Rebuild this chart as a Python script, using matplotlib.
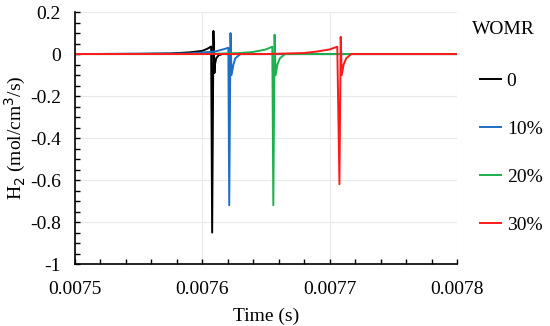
import matplotlib
matplotlib.use("Agg")
import matplotlib.pyplot as plt
from matplotlib.ticker import MultipleLocator, FuncFormatter

plt.rcParams['font.family'] = ['Liberation Serif', 'DejaVu Serif']
plt.rcParams['axes.unicode_minus'] = False

# WOMR cases and their colours
labels = ['0', '10%', '20%', '30%']
colors = ['#000000', '#1f6fc4', '#1db04f', '#ff1a1a']

# H2 rate vs time (time in s, rate in mol/cm3/s)
t_0 = [0.0075, 0.00755, 0.007575, 0.00759, 0.0076, 0.007604, 0.007607,
       0.0076078, 0.0076088, 0.0076096, 0.00761, 0.007611, 0.007613, 0.007616, 0.0078]
h2_0 = [0.0, 0.001, 0.003, 0.008, 0.015, 0.025, 0.036,
        -0.85, 0.11, -0.09, -0.05, -0.02, -0.005, 0.0, 0.0]

t_10 = [0.0075, 0.00759, 0.00761, 0.007618, 0.0076205,
        0.0076212, 0.0076222, 0.007623, 0.0076245, 0.007626, 0.00763, 0.0078]
h2_10 = [0.0, 0.003, 0.012, 0.025, 0.03,
         -0.72, 0.10, -0.1, -0.05, -0.02, 0.0, 0.0]

t_20 = [0.0075, 0.0076, 0.00763, 0.00764, 0.00765, 0.007655,
        0.0076558, 0.0076568, 0.0076576, 0.007659, 0.007661, 0.007665, 0.0078]
h2_20 = [0.0, 0.0, 0.005, 0.01, 0.022, 0.035,
         -0.72, 0.092, -0.1, -0.05, -0.02, 0.0, 0.0]

t_30 = [0.0075, 0.00765, 0.00768, 0.00769, 0.0077, 0.007706,
        0.0077077, 0.0077087, 0.0077095, 0.007711, 0.007713, 0.007717, 0.0078]
h2_30 = [0.0, 0.0, 0.005, 0.012, 0.022, 0.035,
         -0.62, 0.082, -0.1, -0.05, -0.02, 0.0, 0.0]

series = [(t_0, h2_0), (t_10, h2_10), (t_20, h2_20), (t_30, h2_30)]

fs = 14

fig = plt.figure(figsize=(5.5, 3.26), dpi=100)
ax = fig.add_axes([0.136, 0.19, 0.695, 0.773])

for (t, h), c, lab in zip(series, colors, labels):
    ax.plot(t, h, color=c, lw=1.4, label=lab)

ax.set_xlim(0.0075, 0.0078)
ax.set_ylim(-1, 0.2)
ax.xaxis.set_major_locator(MultipleLocator(0.0001))
ax.xaxis.set_minor_locator(MultipleLocator(0.00002))
ax.yaxis.set_major_locator(MultipleLocator(0.2))
ax.yaxis.set_minor_locator(MultipleLocator(0.05))
ax.xaxis.set_major_formatter(FuncFormatter(lambda v, p: '%.4f' % v))
ax.yaxis.set_major_formatter(FuncFormatter(lambda v, p: '%g' % round(v, 2)))

ax.grid(True, which='major', color='#e9e9e9', lw=0.8)
ax.set_axisbelow(True)
for s in ['top', 'right']:
    ax.spines[s].set_visible(False)
ax.spines['left'].set_linewidth(1.2)
ax.spines['bottom'].set_linewidth(1.2)
ax.tick_params(which='both', direction='in', labelsize=fs, width=1.0, length=3.5)
ax.tick_params(axis='x', pad=12)
ax.tick_params(axis='y', pad=10)

ax.set_xlabel('Time (s)', fontsize=fs, labelpad=7)
ax.set_ylabel('H$_2$ (mol/cm$^3$/s)', fontsize=fs, va='center')
ax.yaxis.set_label_coords(-0.155, 0.5)

# legend title placed on its own so it sits left of the entries like the original
fig.text(472 / 550, 1 - 30 / 326, 'WOMR', fontsize=fs, va='center', ha='left')
fig.legend(loc='upper left', bbox_to_anchor=(0.84, 0.832), frameon=False,
           fontsize=fs, handlelength=1.1, handletextpad=0.3, labelspacing=1.57)

fig.savefig('out.png', dpi=100)
